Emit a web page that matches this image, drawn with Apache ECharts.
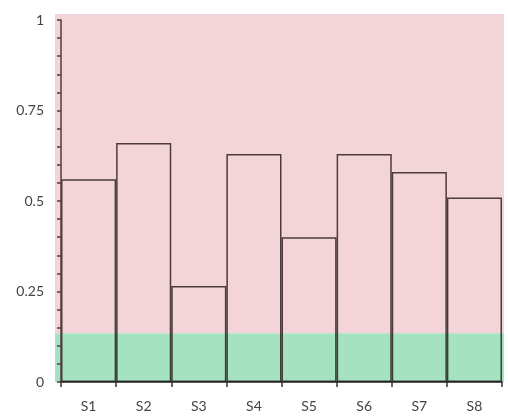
<!DOCTYPE html>
<html>
<head>
<meta charset="utf-8">
<script src="https://cdn.jsdelivr.net/npm/echarts@6/dist/echarts.min.js"></script>
<style>html,body{margin:0;padding:0;background:#fff}#c{width:508px;height:419px}</style>
</head>
<body>
<div id="c"></div>
<script>
const categories = ['S1','S2','S3','S4','S5','S6','S7','S8'];
const values = [0.56, 0.66, 0.265, 0.63, 0.40, 0.63, 0.58, 0.51];
const yTicks = [0, 0.25, 0.5, 0.75, 1];
const greenBandTop = 0.135;

const chart = echarts.init(document.getElementById('c'));
const font = 'Lato, "Open Sans", sans-serif';
const option = {
  animation: false,
  grid: { left: 61, right: 6, top: 20, bottom: 37 },
  xAxis: {
    type: 'category', data: categories,
    axisLine: { lineStyle: { color: '#1e1e1e', width: 1.5 } },
    axisTick: { show: true, length: 5, lineStyle: { color: '#333', width: 1.5 } },
    axisLabel: { color: '#444', fontFamily: font, fontSize: 14, margin: 17 },
    z: 5
  },
  yAxis: {
    type: 'value', min: yTicks[0], max: yTicks[yTicks.length-1], interval: 0.25,
    axisLine: { show: true, lineStyle: { color: '#5a3a42', width: 1.5 } },
    axisTick: { show: true, length: 4, lineStyle: { color: '#5a3a42', width: 1.5 } },
    minorTick: { show: true, splitNumber: 5, length: 4, lineStyle: { color: '#5a3a42', width: 1.5 } },
    splitLine: { show: false },
    axisLabel: { color: '#444', fontFamily: font, fontSize: 14, margin: 17 },
    z: 5
  },
  series: [{
    type: 'bar', data: values, barCategoryGap: '0%',
    itemStyle: { color: 'rgba(0,0,0,0)', borderColor: 'rgba(35,20,22,0.8)', borderWidth: 1.5 },
    z: 3
  }]
};
chart.setOption(option);

const pTop = chart.convertToPixel({yAxisIndex: 0}, yTicks[yTicks.length-1]);
const pZero = chart.convertToPixel({yAxisIndex: 0}, 0);
const pBand = chart.convertToPixel({yAxisIndex: 0}, greenBandTop);
const xl = 55, xr = 504;
chart.setOption({
  graphic: [
    { type: 'rect', z: -10, shape: { x: xl, y: pTop - 6, width: xr - xl, height: pBand - (pTop - 6) }, style: { fill: '#f3d4d8' } },
    { type: 'rect', z: -10, shape: { x: xl, y: pBand, width: xr - xl, height: pZero - pBand }, style: { fill: '#a5e3c0' } }
  ]
});
</script>
</body>
</html>
